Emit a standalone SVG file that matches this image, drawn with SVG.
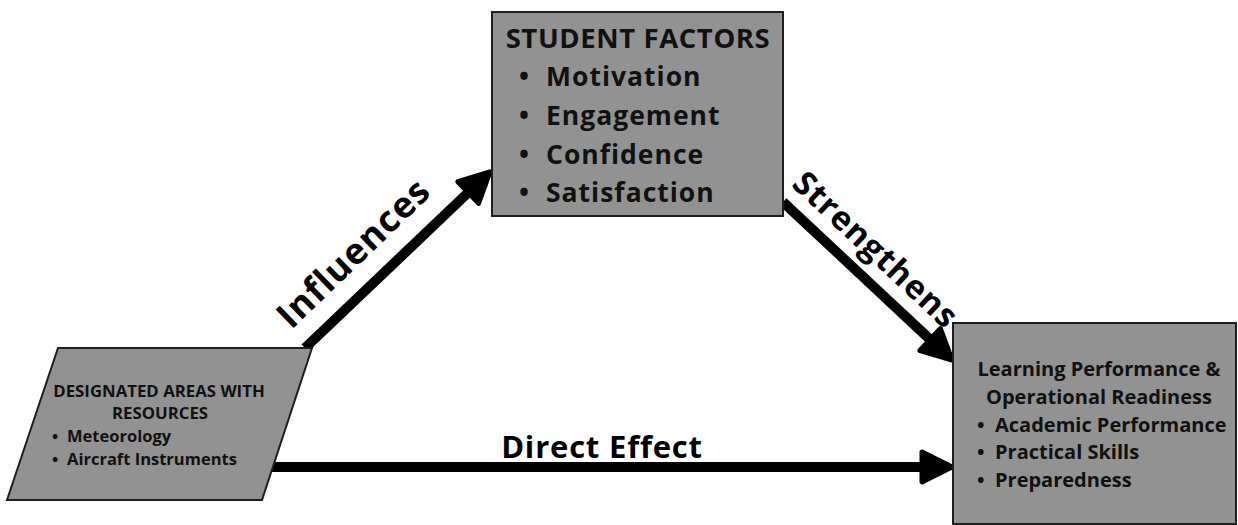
<svg xmlns="http://www.w3.org/2000/svg" width="1238" height="525" viewBox="0 0 1238 525">
  <style>
    .box { fill: #929292; stroke: #1e1e1e; stroke-width: 2; }
    .conn { stroke: #000; stroke-width: 10; fill: none; marker-end: url(#head); }
    .t { font-family: "Open Sans", "Liberation Sans", sans-serif; font-weight: 700; fill: #111; }
    .lbl { font-family: "Open Sans", "Liberation Sans", sans-serif; font-weight: 700; fill: #000; }
  </style>
  <defs>
    <marker id="head" markerUnits="userSpaceOnUse" viewBox="-3 -19 37 38" markerWidth="37" markerHeight="38" refX="8" refY="0" orient="auto">
      <path d="M0,-15 L30,0 L0,15 Z" fill="#000" stroke="#000" stroke-width="5" stroke-linejoin="round"/>
    </marker>
  </defs>
  <rect width="1238" height="525" fill="#fff"/>

  <g id="connectors">
    <line class="conn" x1="305" y1="348" x2="474" y2="187"/>
    <line class="conn" x1="783" y1="202" x2="936" y2="345"/>
    <line class="conn" x1="268" y1="467" x2="930" y2="467"/>
    <text class="lbl" font-size="36" letter-spacing="1" text-anchor="middle" transform="translate(362,262) rotate(-44)">Influences</text>
    <text class="lbl" font-size="33" letter-spacing="1" text-anchor="middle" transform="translate(868,258) rotate(43)">Strengthens</text>
    <text class="lbl" font-size="31" letter-spacing="0.8" x="602" y="458" text-anchor="middle">Direct Effect</text>
  </g>

  <g id="resources">
    <polygon class="box" points="58,348 312,348 262,500 7,500"/>
    <text class="t" font-size="16.8" x="159" y="397" text-anchor="middle">DESIGNATED AREAS WITH</text>
    <text class="t" font-size="16.8" x="160" y="419" text-anchor="middle">RESOURCES</text>
    <text class="t" font-size="16.5" x="52" y="442">•</text>
    <text class="t" font-size="16.5" x="67" y="442">Meteorology</text>
    <text class="t" font-size="16.5" x="52" y="465">•</text>
    <text class="t" font-size="16.5" x="67" y="465">Aircraft Instruments</text>
  </g>

  <g id="student-factors">
    <rect class="box" x="492" y="12" width="291" height="204"/>
    <text class="t" font-size="27.5" letter-spacing="0.6" x="638" y="48" text-anchor="middle">STUDENT FACTORS</text>
    <text class="t" font-size="26.5" x="519" y="86">•</text>
    <text class="t" font-size="26.5" x="546" y="86" letter-spacing="1">Motivation</text>
    <text class="t" font-size="26.5" x="519" y="125">•</text>
    <text class="t" font-size="26.5" x="546" y="125" letter-spacing="1">Engagement</text>
    <text class="t" font-size="26.5" x="519" y="164">•</text>
    <text class="t" font-size="26.5" x="546" y="164" letter-spacing="1">Confidence</text>
    <text class="t" font-size="26.5" x="519" y="202">•</text>
    <text class="t" font-size="26.5" x="546" y="202" letter-spacing="1">Satisfaction</text>
  </g>

  <g id="outcomes">
    <rect class="box" x="953" y="323" width="283" height="201"/>
    <text class="t" font-size="20" x="1099" y="376" text-anchor="middle">Learning Performance &amp;</text>
    <text class="t" font-size="20" x="1099" y="404" text-anchor="middle">Operational Readiness</text>
    <text class="t" font-size="20" x="977" y="432">•</text>
    <text class="t" font-size="20" x="995" y="432">Academic Performance</text>
    <text class="t" font-size="20" x="977" y="459">•</text>
    <text class="t" font-size="20" x="995" y="459">Practical Skills</text>
    <text class="t" font-size="20" x="977" y="487">•</text>
    <text class="t" font-size="20" x="995" y="487">Preparedness</text>
  </g>
</svg>
